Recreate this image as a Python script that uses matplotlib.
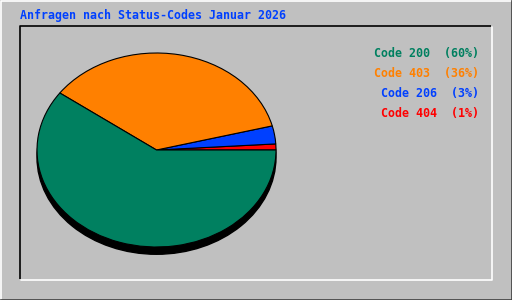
"""Pie chart of requests by HTTP status code, January 2026."""

import matplotlib
matplotlib.use("Agg")
import matplotlib.pyplot as plt
from matplotlib.patches import Ellipse

# Data (legend order)
codes = ["Code 200", "Code 403", "Code 206", "Code 404"]
shares = [60, 36, 3, 1]
colors = ["#008060", "#ff8000", "#0040ff", "#ff0000"]

title = "Anfragen nach Status-Codes Januar 2026"
bg = "#c0c0c0"
mono = "DejaVu Sans Mono"

fig = plt.figure(figsize=(5.12, 3.0), dpi=100, facecolor=bg)

# Background axes in pixel coordinates for frame and text
ax = fig.add_axes([0, 0, 1, 1])
ax.set_xlim(0, 512)
ax.set_ylim(300, 0)
ax.axis("off")

# Outer raised border
ax.plot([0.5, 0.5, 511.5], [299.5, 0.5, 0.5], color="white", lw=1.2)
ax.plot([0.5, 511.5, 511.5], [299.5, 299.5, 0.5], color="#404040", lw=1.2)
# Inner sunken frame
ax.plot([19.5, 19.5, 491.5], [279.5, 25.5, 25.5], color="black", lw=1.2)
ax.plot([19.5, 491.5, 491.5], [279.5, 279.5, 25.5], color="white", lw=1.2)

ax.text(20, 15, title, color="#0040ff", family=mono, fontweight="bold",
        fontsize=8.4, ha="left", va="center")

# Legend entries, right aligned
for i, (code, pct, col) in enumerate(zip(codes, shares, colors)):
    ax.text(479, 54 + i * 20, f"{code}  ({pct}%)", color=col, family=mono,
            fontweight="bold", fontsize=8.4, ha="right", va="center")

# Elliptical pie: non-equal aspect stretches the circle
pax = fig.add_axes([37 / 512, 1 - 247 / 300, 239 / 512, 194 / 300])
pax.set_xlim(-1, 1)
pax.set_ylim(-1, 1)
pax.set_aspect("auto")
pax.axis("off")

# Drop shadow below the pie
pax.add_patch(Ellipse((0, -0.075), 2, 2, color="black", clip_on=False, zorder=0))

pax.pie(
    shares[::-1],
    colors=colors[::-1],
    startangle=0,
    counterclock=True,
    radius=1,
    center=(0, 0),
    frame=True,
    wedgeprops=dict(edgecolor="black", linewidth=0.8, clip_on=False),
)
pax.set_xlim(-1, 1)
pax.set_ylim(-1, 1)
pax.set_aspect("auto")
pax.axis("off")

fig.savefig("out.png", dpi=100, facecolor=bg)
